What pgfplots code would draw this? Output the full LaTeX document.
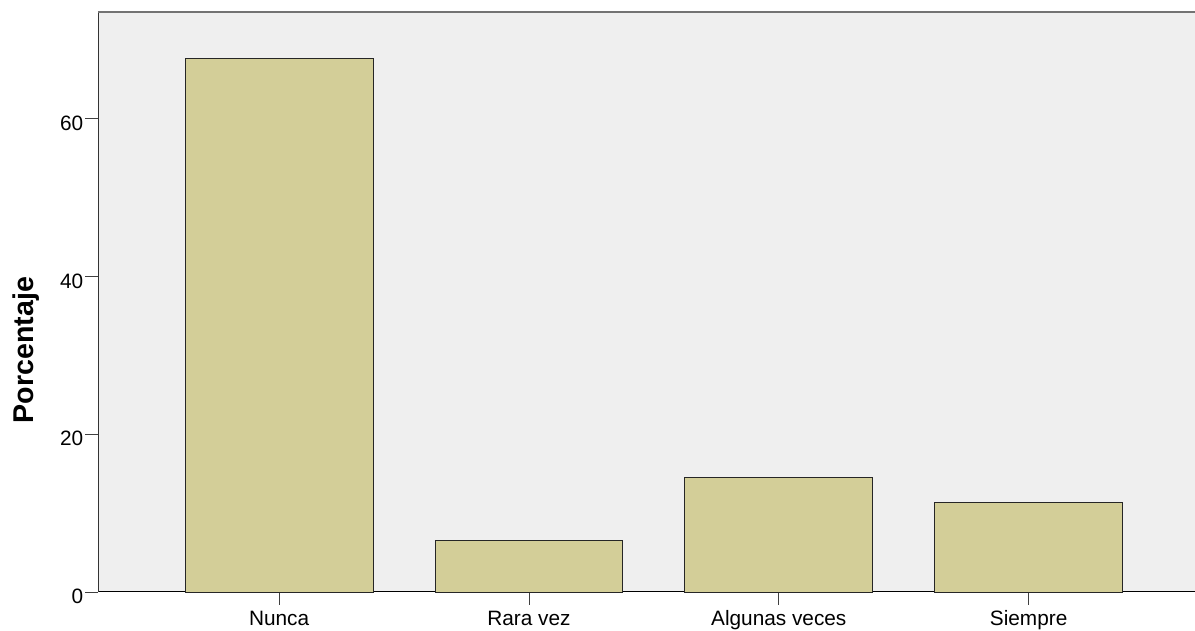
\documentclass[border=0pt]{standalone}
\usepackage{fontspec}
\setmainfont{Liberation Sans}
\usepackage{pgfplots}
\pgfplotsset{compat=1.18}
\definecolor{barfill}{RGB}{211,206,152}
\definecolor{bgfill}{RGB}{239,239,239}
\begin{document}
\begin{tikzpicture}
\begin{axis}[
  scale only axis,
  width=1096.5pt, height=580pt,
  at={(0pt,0pt)}, anchor=south west,
  xmin=-0.723, xmax=3.666,
  ymin=0, ymax=73.5,
  axis lines=left,
  axis line style={-},
  x axis line style={black, line width=1pt},
  y axis line style={black!80, line width=1pt},
  axis background/.style={fill=bgfill},
  clip=false,
  tick align=outside,
  major tick length=13pt,
  tick style={black!75, line width=0.8pt},
  xtick={0,1,2,3},
  xticklabels={Nunca,Rara vez,Algunas veces,Siempre},
  ytick={0,20,40,60},
  /pgf/number format/assume math mode=true,
  tick label style={font=\fontsize{20.8}{24}\selectfont},
  yticklabel style={anchor=east, inner sep=0pt, xshift=-2pt, yshift=-4.5pt},
  xticklabel style={anchor=north, inner sep=0pt, text height=15pt, text depth=4.5pt, yshift=-5pt},
  every axis y label/.style={at={(axis description cs:-0.0657,0.417)}, rotate=90, anchor=center, inner sep=0pt, font=\fontsize{28.6}{32}\selectfont\bfseries},
  ylabel={Porcentaje},
]
\addplot[ybar, bar width=187.7pt, fill=barfill, draw=black!85, line width=0.9pt]
  coordinates {(0,67.6) (1,6.5) (2,14.5) (3,11.3)};
\draw[color=black!55, line width=1.3pt] (rel axis cs:0,1) -- (rel axis cs:1.01,1);
\end{axis}
\pgfresetboundingbox
\path[use as bounding box] (-98.5pt,-39pt) rectangle (1096.5pt,592pt);
\end{tikzpicture}
\end{document}
